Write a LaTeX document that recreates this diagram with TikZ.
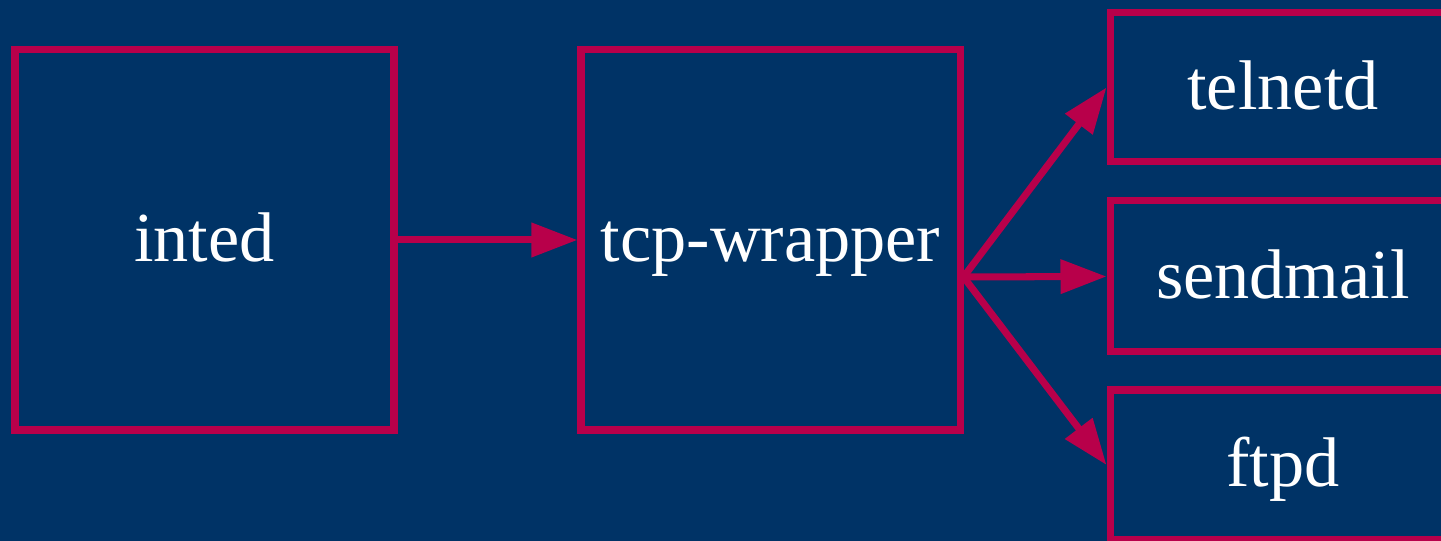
\documentclass[tikz,border=0pt]{standalone}
\usepackage{fontspec}
\setmainfont{Liberation Serif}
\usepackage{xcolor}
\usetikzlibrary{arrows.meta}
\definecolor{bgblue}{HTML}{003366}
\definecolor{boxred}{HTML}{B8004A}

\begin{document}
\begin{tikzpicture}[font=\fontsize{20}{24}\selectfont,
  box/.style={draw=boxred, line width=2pt, fill=bgblue, text=white, inner sep=0pt, text height=13pt, text depth=0.5pt},
  link/.style={draw=boxred, line width=2pt, -{Triangle[length=0.46cm,width=0.33cm]}}]
\fill[bgblue] (0,0) rectangle (14.41,5.41);
\useasboundingbox (0,0) rectangle (14.41,5.41);

\node[box, minimum width=3.79cm, minimum height=3.8cm] (inted) at (2.045,3.01) {inted};
\node[box, minimum width=3.79cm, minimum height=3.8cm] (tcp) at (7.705,3.01) {tcp-wrapper};

\node[box, minimum width=3.46cm, minimum height=1.49cm] (telnetd) at (12.83,4.535) {telnetd};
\node[box, minimum width=3.46cm, minimum height=1.51cm] (sendmail) at (12.83,2.645) {sendmail};
\node[box, minimum width=3.46cm, minimum height=1.50cm] (ftpd) at (12.83,0.76) {ftpd};

\coordinate (fan) at ([yshift=-0.37cm]tcp.east);

\draw[link] (inted.east) -- (tcp.west);
\draw[link] (fan) -- (telnetd.west);
\draw[link] (fan) -- (sendmail.west);
\draw[link] (fan) -- (ftpd.west);
\end{tikzpicture}
\end{document}
